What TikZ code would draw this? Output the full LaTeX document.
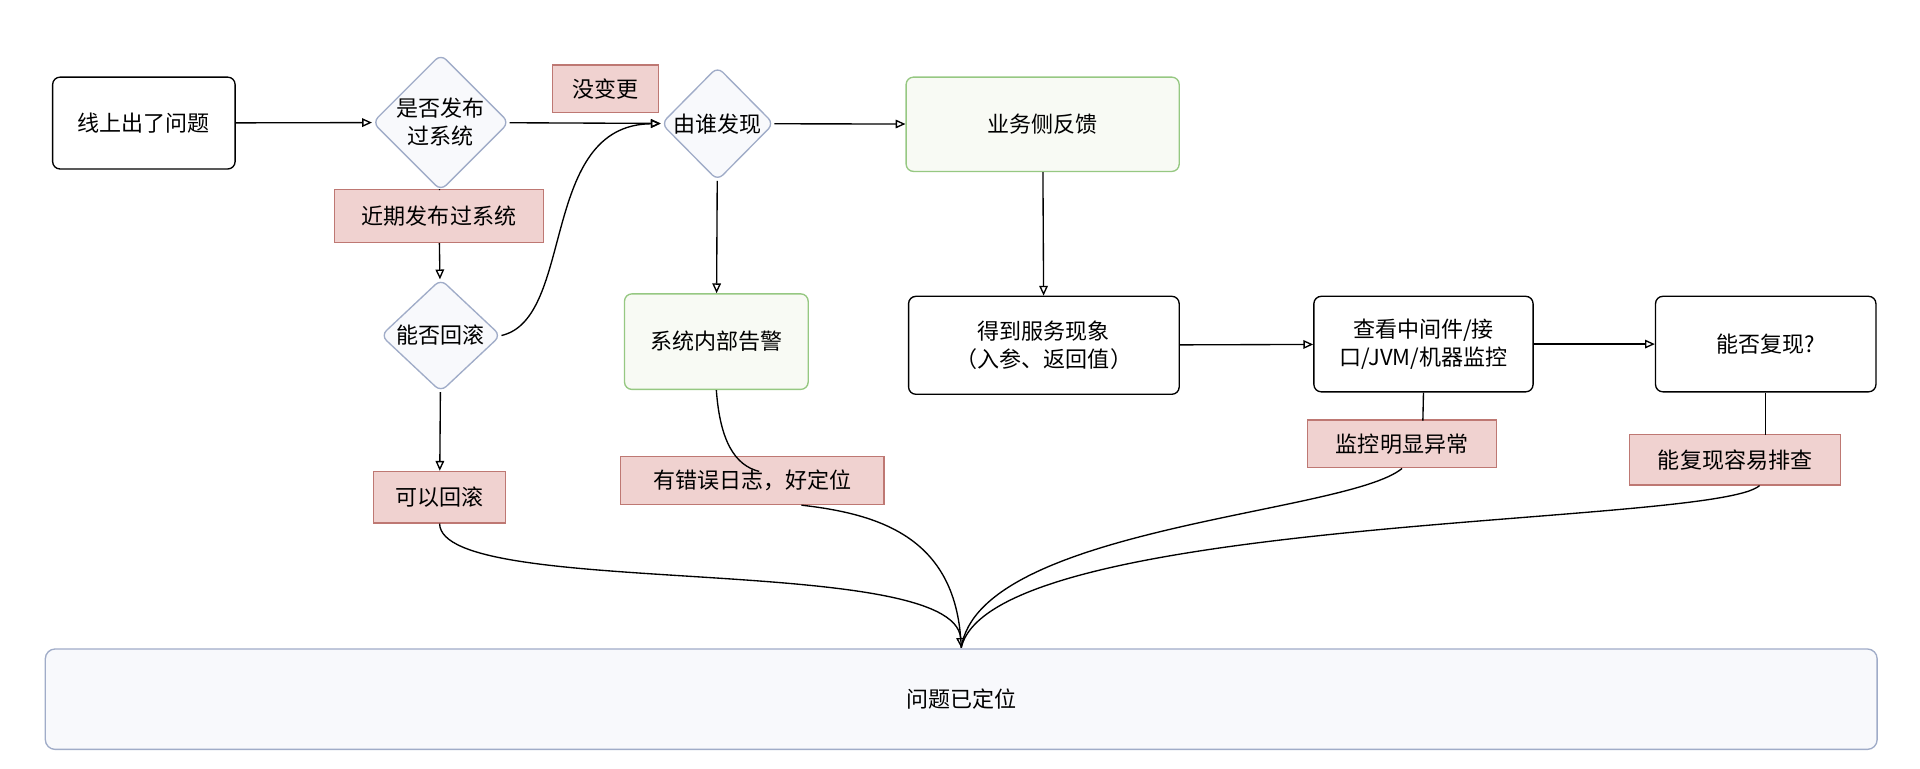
\documentclass[tikz,border=0pt]{standalone}
\usepackage{fontspec}
\setmainfont{Noto Sans CJK SC}
\usetikzlibrary{shapes.geometric,arrows.meta}
\tikzset{every picture/.style={line width=1.1pt}}
\tikzset{
  box/.style={draw=black,rounded corners=6pt,fill=white,align=center},
  gbox/.style={draw={rgb,255:red,150;green,200;blue,130},rounded corners=6pt,fill={rgb,255:red,248;green,250;blue,244},align=center},
  dia/.style={diamond,draw={rgb,255:red,160;green,172;blue,200},fill={rgb,255:red,248;green,249;blue,252},rounded corners=6pt,inner sep=0pt,align=center,aspect=1},
  lab/.style={draw={rgb,255:red,190;green,120;blue,115},fill={rgb,255:red,240;green,210;blue,208},inner sep=0pt},
  arr/.style={-{Triangle[open,length=8pt,width=7pt]}},
}
\begin{document}
\begin{tikzpicture}[x=1pt,y=1pt,yscale=-1,font=\fontsize{18}{23}\selectfont]
\useasboundingbox (0,0) rectangle (1568,628);

% boxes
\node[box,minimum width=149,minimum height=75] (problem) at (117.5,100.5) {线上出了问题};
\node[dia,minimum width=98,minimum height=95] (released) at (360,100) {是否发布\\过系统};
\node[dia,minimum width=92,minimum height=93] (finder) at (586,101) {由谁发现};
\node[gbox,minimum width=223,minimum height=77] (business) at (851.5,101.5) {业务侧反馈};
\node[dia,minimum width=98,minimum height=92] (rollback) at (360,274) {能否回滚};
\node[gbox,minimum width=150,minimum height=78] (alarm) at (585,279) {系统内部告警};
\node[box,minimum width=221,minimum height=80] (phenom) at (852.5,282) {得到服务现象\\（入参、返回值）};
\node[box,minimum width=179,minimum height=78] (monitor) at (1162.5,281) {查看中间件/接\\口/JVM/机器监控};
\node[box,minimum width=180,minimum height=78] (repro) at (1442,281) {能否复现?};
\node[draw={rgb,255:red,160;green,172;blue,200},fill={rgb,255:red,248;green,249;blue,252},rounded corners=8pt,minimum width=1496,minimum height=82] (located) at (785,571) {问题已定位};

% labels
\node[lab,minimum width=87,minimum height=39] (nochange) at (494.5,72.5) {没变更};
\node[lab,minimum width=171,minimum height=43] (recent) at (358.5,176.5) {近期发布过系统};
\node[lab,minimum width=108,minimum height=42] (canroll) at (359,406) {可以回滚};
\node[lab,minimum width=215,minimum height=39] (errlog) at (614.5,392.5) {有错误日志，好定位};
\node[lab,minimum width=154,minimum height=39] (abnormal) at (1145,362.5) {监控明显异常};
\node[lab,minimum width=172,minimum height=41] (canrepro) at (1417,375.5) {能复现容易排查};

\coordinate (merge) at (785,529);

% connectors
\draw[arr] (problem) -- (released);
\draw[arr] (released) -- (finder);
\draw (released) -- (recent);
\draw[arr] (recent) -- (rollback);
\draw[arr] (rollback.east) .. controls (470,260) and (440,102) .. (finder.west);
\draw[arr] (finder) -- (alarm);
\draw[arr] (finder) -- (business);
\draw[arr] (business) -- (phenom);
\draw[arr] (phenom) -- (monitor);
\draw[arr] (monitor) -- (repro);
\draw[arr] (rollback) -- (canroll);
\draw (alarm.south) .. controls (588,360) and (600,380) .. (620,385);
\draw (monitor.south) -- (1162,343.5);
\draw (repro.south) -- (1442,355);
\draw[arr] (canroll.south) .. controls (360,490) and (780,450) .. (merge);
\draw (errlog.south) ++(40,0) .. controls (720,420) and (782,440) .. (merge);
\draw (abnormal.south) .. controls (1100,420) and (800,430) .. (merge);
\draw (canrepro.south) ++(20,0) .. controls (1400,430) and (810,420) .. (merge);

\end{tikzpicture}
\end{document}
